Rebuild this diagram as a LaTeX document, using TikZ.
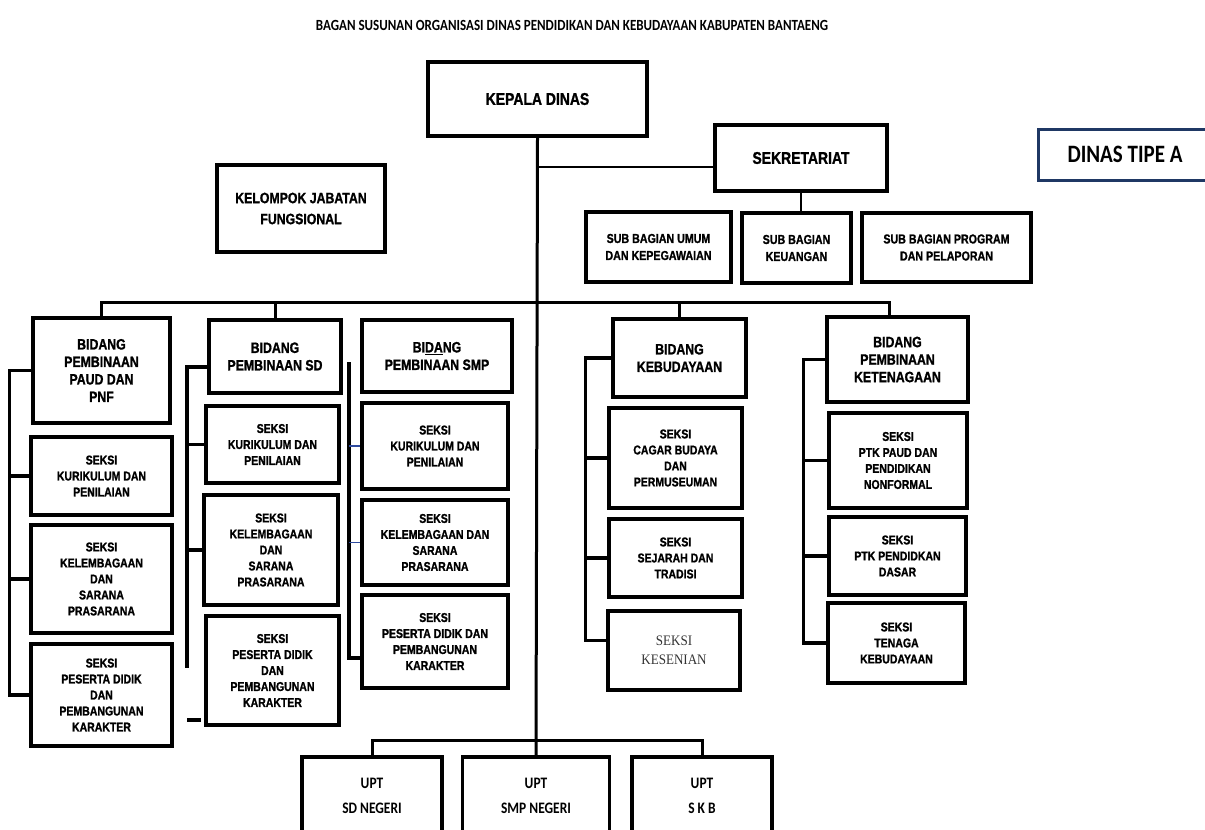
\documentclass[tikz,border=0pt]{standalone}
\usepackage{fontspec}
\setmainfont{Liberation Sans}
\newfontfamily\narrowfont[FakeStretch=0.82, BoldFeatures={FakeBold=1.2}]{Liberation Sans}
\newfontfamily\calfont[FakeStretch=0.84]{Carlito}
\newfontfamily\timesfont[FakeStretch=0.9]{Liberation Serif}
\usetikzlibrary{positioning}
\definecolor{navy}{HTML}{1F3864}
\definecolor{linkblue}{HTML}{2E4A9E}

\begin{document}
\begin{tikzpicture}[x=1pt,y=-1pt,
  orgbox/.style={draw, line width=3.5pt, inner sep=0pt, align=center},
  boxsize/.style 2 args={minimum width=#1pt, minimum height=#2pt},
  headbox/.style={orgbox, font=\narrowfont\bfseries\fontsize{17}{21}\selectfont},
  bidangbox/.style={orgbox, font=\narrowfont\bfseries\fontsize{15}{17.5}\selectfont},
  seksibox/.style={orgbox, font=\narrowfont\bfseries\fontsize{12.8}{16}\selectfont},
  subbox/.style={orgbox, font=\narrowfont\bfseries\fontsize{13}{17}\selectfont},
  uptbox/.style={orgbox, font=\calfont\bfseries\fontsize{16}{25}\selectfont},
  rail/.style={line width=3.5pt},
  link/.style={line width=3pt},
  bluelink/.style={line width=1.5pt, linkblue}]
\useasboundingbox (0,0) rectangle (1205,830);
\clip (0,0) rectangle (1205,830);

\node[font=\calfont\bfseries\fontsize{15.5}{18}\selectfont] (judul) at (572,25)
  {BAGAN SUSUNAN ORGANISASI DINAS PENDIDIKAN DAN KEBUDAYAAN KABUPATEN BANTAENG};

% pimpinan dan sekretariat
\node[headbox, boxsize={219}{74}] (kepala) at (537.5,99) {KEPALA DINAS};
\node[headbox, boxsize={172}{66}] (sekr) at (801,158) {SEKRETARIAT};
\node[orgbox, draw=navy, line width=3pt, font=\calfont\bfseries\fontsize{25}{28}\selectfont,
  boxsize={174}{51}] (tipea) at (1125,154.5) {DINAS TIPE A};
\node[orgbox, boxsize={168}{87}, font=\narrowfont\bfseries\fontsize{15}{21}\selectfont]
  (fungsional) at (301,208.5) {KELOMPOK JABATAN\\FUNGSIONAL};
\node[subbox, boxsize={145}{70}] (subumum) at (658.5,247) {SUB BAGIAN UMUM\\DAN KEPEGAWAIAN};
\node[subbox, boxsize={109}{70}] (subkeu) at (796.5,248) {SUB BAGIAN\\KEUANGAN};
\node[subbox, boxsize={169}{69}] (subprog) at (946.5,247.5) {SUB BAGIAN PROGRAM\\DAN PELAPORAN};

% bidang paud
\node[bidangbox, boxsize={137}{105}] (paud) at (101.5,370.5) {BIDANG\\PEMBINAAN\\PAUD DAN\\PNF};
\node[seksibox, boxsize={141}{78}] (paudkur) at (101.5,476) {SEKSI\\KURIKULUM DAN\\PENILAIAN};
\node[seksibox, boxsize={141}{108}] (paudkel) at (101.5,579) {SEKSI\\KELEMBAGAAN\\DAN\\SARANA\\PRASARANA};
\node[seksibox, boxsize={141}{102}] (paudpes) at (101.5,695) {SEKSI\\PESERTA DIDIK\\DAN\\PEMBANGUNAN\\KARAKTER};

% bidang sd
\node[bidangbox, boxsize={132}{73}] (sd) at (275,356.5) {BIDANG\\PEMBINAAN SD};
\node[seksibox, boxsize={133}{77}] (sdkur) at (272.5,444.5) {SEKSI\\KURIKULUM DAN\\PENILAIAN};
\node[seksibox, boxsize={134}{110}] (sdkel) at (271,550) {SEKSI\\KELEMBAGAAN\\DAN\\SARANA\\PRASARANA};
\node[seksibox, boxsize={133}{109}] (sdpes) at (272.5,670.5) {SEKSI\\PESERTA DIDIK\\DAN\\PEMBANGUNAN\\KARAKTER};

% bidang smp
\node[bidangbox, boxsize={150}{72}] (smp) at (437,356) {BI\underline{DA}NG\\PEMBINAAN SMP};
\node[seksibox, boxsize={146}{86}] (smpkur) at (435,446) {SEKSI\\KURIKULUM DAN\\PENILAIAN};
\node[seksibox, boxsize={146}{85}] (smpkel) at (435,542.5) {SEKSI\\KELEMBAGAAN DAN\\SARANA\\PRASARANA};
\node[seksibox, boxsize={146}{93}] (smppes) at (435,641.5) {SEKSI\\PESERTA DIDIK DAN\\PEMBANGUNAN\\KARAKTER};

% bidang kebudayaan
\node[bidangbox, boxsize={133}{78}] (budaya) at (679.5,358) {BIDANG\\KEBUDAYAAN};
\node[seksibox, boxsize={133}{100}] (cagar) at (675.5,458) {SEKSI\\CAGAR BUDAYA\\DAN\\PERMUSEUMAN};
\node[seksibox, boxsize={133}{78}] (sejarah) at (675.5,558) {SEKSI\\SEJARAH DAN\\TRADISI};
\node[orgbox, boxsize={132}{79}, font=\timesfont\fontsize{14.5}{19}\selectfont, text=black!80]
  (kesenian) at (674,650.5) {SEKSI\\KESENIAN};

% bidang ketenagaan
\node[bidangbox, boxsize={141}{85}] (tenaga) at (897.5,359.5) {BIDANG\\PEMBINAAN\\KETENAGAAN};
\node[seksibox, boxsize={138}{95}] (ptkpaud) at (898,460.5) {SEKSI\\PTK PAUD DAN\\PENDIDIKAN\\NONFORMAL};
\node[seksibox, boxsize={137}{78}] (ptkdasar) at (897.5,556) {SEKSI\\PTK PENDIDKAN\\DASAR};
\node[seksibox, boxsize={137}{80}] (tenagabud) at (896.5,643) {SEKSI\\TENAGA\\KEBUDAYAAN};

% upt
\node[uptbox, boxsize={140}{77}] (sdn) at (372,795.5) {UPT\\SD NEGERI};
\node[uptbox, boxsize={147}{77}] (smpn) at (536,795.5) {UPT\\SMP NEGERI};
\node[uptbox, boxsize={140}{77}] (skb) at (702,795.5) {UPT\\S K B};

% garis komando
\draw[link] (kepala.south) -- (smpn.north);
\coordinate (sekrjoin) at (537,167);
\draw[line width=2pt] (sekrjoin) -- (sekrjoin -| sekr.west);
\draw[line width=2.5pt] (sekr.south) -- (sekr.south |- subkeu.north);

\coordinate (barR) at (889,302);
\draw[link] (paud.north) |- (barR) -- (barR |- tenaga.north);
\draw[link] (sd.north |- barR) -- (sd.north);
\draw[link] (budaya.north |- barR) -- (budaya.north);

\coordinate (uptbar) at (537,740);
\draw[link] (sdn.north) |- (uptbar) -| (skb.north);

% rel seksi
\draw[rail] (paud.west) -- ++(-22,0) coordinate (paudrail) |- (paudpes.west);
\draw[rail] (paudrail |- paudkur.west) -- (paudkur.west);
\draw[rail] (paudrail |- paudkel.west) -- (paudkel.west);

\coordinate (sdrail) at (187,367);
\coordinate (sdrailend) at (187,668);
\draw[rail] (sdrail -| sd.west) -- (sdrail) -- (sdrailend);
\draw[rail] (sdrail |- sdkur.west) -- (sdkur.west);
\draw[rail] (sdrail |- sdkel.west) -- (sdkel.west);
\coordinate (sddash) at (187,720);
\draw[rail] (sddash) -- ++(14,0);

\coordinate (smprail) at (349,362);
\coordinate (smprailend) at (349,658);
\draw[rail] (smprail) -- (smprailend) -- (smprailend -| smppes.west);
\draw[bluelink] (smprail |- smpkur.west) -- (smpkur.west);
\draw[bluelink] (smprail |- smpkel.west) -- (smpkel.west);

\draw[rail] (budaya.west) -- ++(-26,0) coordinate (budrail) |- ([yshift=10pt]kesenian.west);
\draw[rail] (budrail |- cagar.west) -- (cagar.west);
\draw[rail] (budrail |- sejarah.west) -- (sejarah.west);

\draw[rail] (tenaga.west) -- ++(-22,0) coordinate (tenrail) |- (tenagabud.west);
\draw[rail] (tenrail |- ptkpaud.west) -- (ptkpaud.west);
\draw[rail] (tenrail |- ptkdasar.west) -- (ptkdasar.west);

\end{tikzpicture}
\end{document}
